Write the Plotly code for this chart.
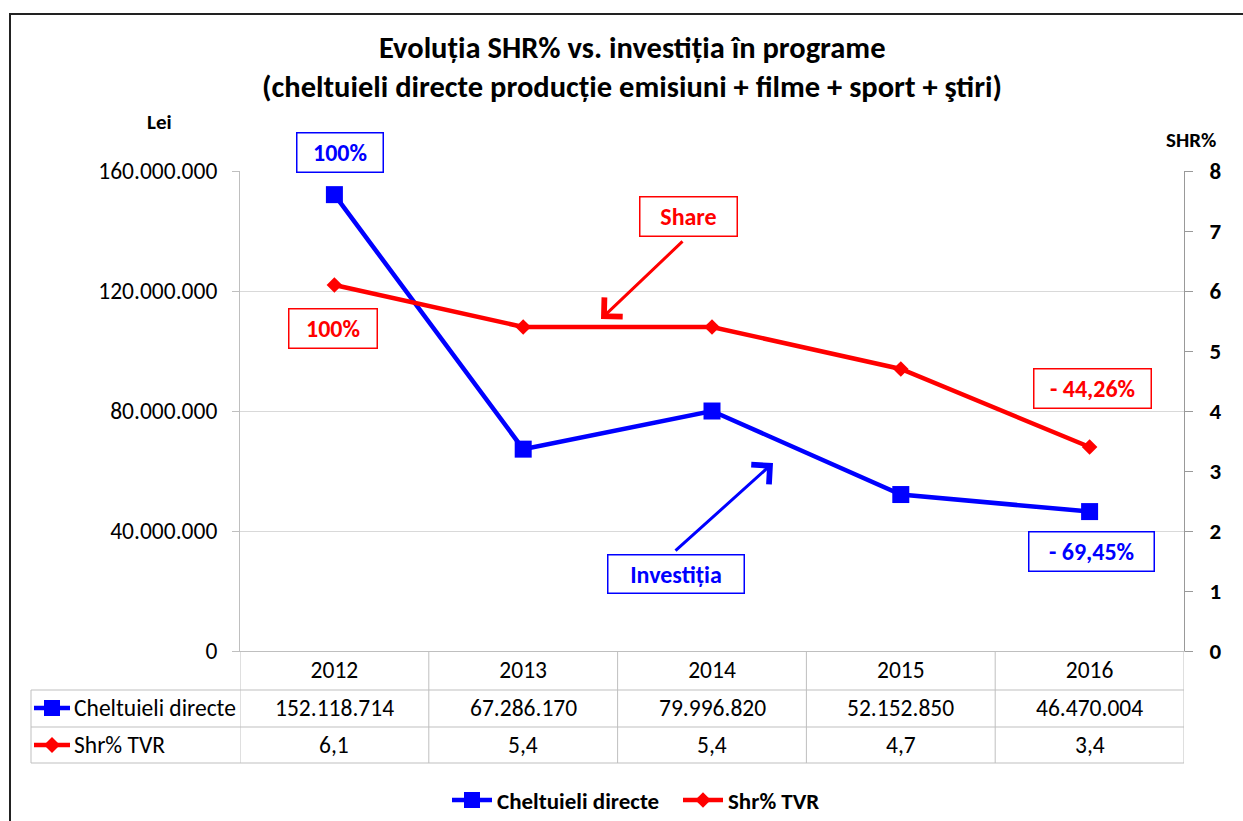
import plotly.graph_objects as go

years = ["2012", "2013", "2014", "2015", "2016"]
cheltuieli = [152118714, 67286170, 79996820, 52152850, 46470004]
shr = [6.1, 5.4, 5.4, 4.7, 3.4]
series_names = ["Cheltuieli directe", "Shr% TVR"]
title_lines = ["Evoluția SHR% vs. investiția în programe",
               "(cheltuieli directe producție emisiuni + filme + sport + ştiri)"]

BLUE = "#0000FF"
RED = "#FF0000"
GRID = "#D9D9D9"
TGRID = "#BFBFBF"
REG = "Carlito, Liberation Sans, Arial, sans-serif"
BOLD = "Carlito, Liberation Sans, Arial, sans-serif"

W, H = 1243, 821
L, R, T, B = 240, 1184, 171, 651  # plot area in pixels


def px(x):
    return (x - L) / (R - L)


def py(y):
    return (B - y) / (B - T)


def fmt_int(v):
    return f"{v:,}".replace(",", ".")


def fmt_dec(v):
    return f"{v:.1f}".replace(".", ",")


fig = go.Figure()
fig.add_trace(go.Scatter(
    x=years, y=cheltuieli, name=f"<b>{series_names[0]}</b>", mode="lines+markers",
    line=dict(color=BLUE, width=4.5),
    marker=dict(symbol="square", size=17, color=BLUE),
    yaxis="y"))
fig.add_trace(go.Scatter(
    x=years, y=shr, name=f"<b>{series_names[1]}</b>", mode="lines+markers",
    line=dict(color=RED, width=4.5),
    marker=dict(symbol="diamond", size=12, color=RED),
    yaxis="y2"))

shapes = []
annotations = []

# outer chart border
shapes.append(dict(type="rect", xref="paper", yref="paper",
                   x0=px(10), x1=px(1260), y0=py(14), y1=py(840),
                   line=dict(color="#222222", width=2), layer="below"))

# data table grid
for yy in [690, 727, 763]:
    shapes.append(dict(type="line", xref="paper", yref="paper",
                       x0=px(31), x1=px(R), y0=py(yy), y1=py(yy),
                       line=dict(color=TGRID, width=1)))
shapes.append(dict(type="line", xref="paper", yref="paper",
                   x0=px(31), x1=px(31), y0=py(690), y1=py(763),
                   line=dict(color=TGRID, width=1)))
for i in range(len(years) + 1):
    shapes.append(dict(type="line", xref="x", yref="paper",
                       x0=i - 0.5, x1=i - 0.5, y0=py(B), y1=py(763),
                       line=dict(color=TGRID, width=1)))

# row legend keys in table
ky1, ky2 = 708, 745
shapes.append(dict(type="line", xref="paper", yref="paper",
                   x0=px(34), x1=px(70), y0=py(ky1), y1=py(ky1),
                   line=dict(color=BLUE, width=4.5)))
shapes.append(dict(type="rect", xref="paper", yref="paper",
                   x0=px(44), x1=px(60), y0=py(ky1 - 8), y1=py(ky1 + 8),
                   fillcolor=BLUE, line=dict(color=BLUE, width=0)))
shapes.append(dict(type="line", xref="paper", yref="paper",
                   x0=px(34), x1=px(70), y0=py(ky2), y1=py(ky2),
                   line=dict(color=RED, width=4.5)))
shapes.append(dict(type="path", xref="paper", yref="paper",
                   path=(f"M {px(44)},{py(ky2)} L {px(52)},{py(ky2 - 8)} "
                         f"L {px(60)},{py(ky2)} L {px(52)},{py(ky2 + 8)} Z"),
                   fillcolor=RED, line=dict(color=RED, width=0)))

for lbl, yy in zip(series_names, [ky1, ky2]):
    annotations.append(dict(xref="paper", yref="paper", x=px(72), y=py(yy),
                            xanchor="left", yanchor="middle", showarrow=False,
                            text=lbl, font=dict(family=REG, size=23.5, color="#000")))
n = len(years)
for i in range(n):
    annotations.append(dict(xref="paper", yref="paper", x=(i + 0.5) / n, y=py(ky1),
                            xanchor="center", yanchor="middle",
                            showarrow=False, text=fmt_int(cheltuieli[i]),
                            font=dict(family=REG, size=23.5, color="#000")))
    annotations.append(dict(xref="paper", yref="paper", x=(i + 0.5) / n, y=py(ky2),
                            xanchor="center", yanchor="middle",
                            showarrow=False, text=fmt_dec(shr[i]),
                            font=dict(family=REG, size=23.5, color="#000")))

# title (two lines)
for txt, yy in zip(title_lines, [48, 86]):
    annotations.append(dict(xref="paper", yref="paper", x=px(632), y=py(yy),
                            xanchor="center", yanchor="middle", showarrow=False,
                            text=f"<b>{txt}</b>",
                            font=dict(family=BOLD, size=30.5, color="#000")))

# axis titles
annotations.append(dict(xref="paper", yref="paper", x=px(159), y=py(122),
                        xanchor="center", yanchor="middle",
                        showarrow=False, text="<b>Lei</b>",
                        font=dict(family=BOLD, size=21, color="#000")))
annotations.append(dict(xref="paper", yref="paper", x=px(1191), y=py(140),
                        xanchor="center", yanchor="middle",
                        showarrow=False, text="<b>SHR%</b>",
                        font=dict(family=BOLD, size=21, color="#000")))


# boxed labels
def box(text, cx, cy, w, h, color):
    annotations.append(dict(xref="paper", yref="paper", x=px(cx), y=py(cy),
                            xanchor="center", yanchor="middle", showarrow=False,
                            text=f"<b>{text}</b>", width=w, height=h,
                            bgcolor="white", bordercolor=color, borderwidth=1.5,
                            borderpad=0,
                            font=dict(family=BOLD, size=24, color=color)))


def arrow(x0, y0, x1, y1, color):
    annotations.append(dict(xref="paper", yref="paper", x=px(x1), y=py(y1),
                            axref="pixel", ayref="pixel", ax=x0 - x1, ay=y0 - y1,
                            text="", showarrow=True, arrowhead=4, arrowsize=1.7,
                            arrowwidth=3, arrowcolor=color, standoff=0))


box("100%", 340, 152, 85, 38, BLUE)
box("100%", 333, 328, 87, 38, RED)
box("Share", 688, 216, 96, 38, RED)
box("- 44,26%", 1092, 388, 116, 38, RED)
box("- 69,45%", 1091, 551, 124, 38, BLUE)
box("Investiția", 676, 574, 135, 37, BLUE)
arrow(684, 240, 601, 319, RED)
arrow(674, 552, 773, 463, BLUE)

fig.update_layout(
    width=W, height=H,
    margin=dict(l=L, r=W - R, t=T, b=H - B, pad=0, autoexpand=False),
    paper_bgcolor="white", plot_bgcolor="white",
    separators=",.",
    font=dict(family=REG, size=23.5, color="#000"),
    xaxis=dict(type="category", range=[-0.5, 4.5], showgrid=False,
               showline=True, linecolor=TGRID, linewidth=1,
               ticks="", tickfont=dict(family=REG, size=23.5, color="#000"),
               ticklabelstandoff=-2, zeroline=False, automargin=False),
    yaxis=dict(range=[0, 160000000], dtick=40000000, tickformat=",d",
               showgrid=True, gridcolor=GRID, gridwidth=1,
               showline=True, linecolor=TGRID, linewidth=1,
               ticks="outside", ticklen=7, tickcolor=TGRID,
               ticklabelstandoff=10, zeroline=False, automargin=False,
               tickfont=dict(family=REG, size=23.5, color="#000")),
    yaxis2=dict(range=[0, 8], dtick=1, overlaying="y", side="right",
                showgrid=False, showline=True, linecolor="#999999", linewidth=1,
                ticks="outside", ticklen=8, tickcolor="#999999",
                ticklabelstandoff=12, zeroline=False, automargin=False,
                tickfont=dict(family=BOLD, size=23, color="#000"),
                tickprefix="<b>", ticksuffix="</b>"),
    legend=dict(orientation="h", x=px(447), xanchor="left",
                y=py(800), yanchor="middle",
                font=dict(family=BOLD, size=23, color="#000"),
                itemwidth=40, entrywidth=176, traceorder="normal"),
    shapes=shapes, annotations=annotations,
)

fig.write_html("out.html", config={"displayModeBar": False},
               post_script="document.body.style.margin='0px';")
